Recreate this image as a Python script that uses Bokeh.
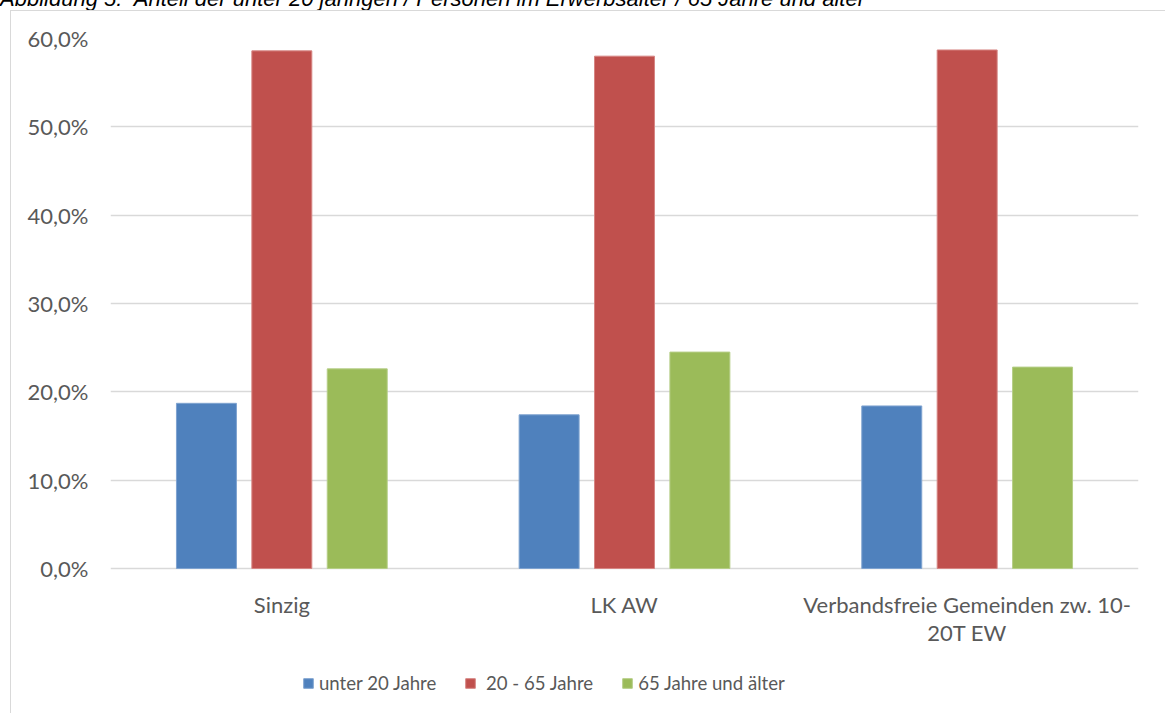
from bokeh.plotting import figure
from bokeh.models import (FactorRange, Legend, LegendItem, FixedTicker,
                          ColumnDataSource, Range1d, Div)
from bokeh.layouts import column
from bokeh.transform import dodge
from bokeh.embed import file_html
from bokeh.resources import INLINE

# ---- data ----
categories = ["Sinzig", "LK AW", "Verbandsfreie Gemeinden zw. 10-\n20T EW"]
series_names = ["unter 20 Jahre", "\u00a020 - 65 Jahre", "65 Jahre und älter"]
unter_20 = [18.7, 17.4, 18.4]
erwerbsalter = [58.6, 58.0, 58.7]
ab_65 = [22.6, 24.5, 22.8]
y_ticks = [0, 10, 20, 30, 40, 50, 60]
y_tick_labels = ["0,0%", "10,0%", "20,0%", "30,0%", "40,0%", "50,0%", "60,0%"]
title_text = "Abbildung 5:&nbsp; Anteil der unter 20 jährigen / Personen im Erwerbsalter / 65 Jahre und älter"

colors = ["#4F81BD", "#C0504D", "#9BBB59"]
edge_colors = ["#7FA3D0", "#D68583", "#B5CE86"]
FONT = "Lato"
TXT = "#595959"

# figure occupies canvas from (10,10) to (1165,713); 1px border shifts content by 1
W, H = 1155, 703
FL, FR, FT = 99, 1127, 27           # frame edges inside the figure
ZERO = 557                          # figure y of the 0 % line
Y_TOP = 60.0
PX_PER_UNIT = (ZERO - FT) / Y_TOP
Y_BOTTOM = -(H - ZERO) / PX_PER_UNIT  # frame runs down to the figure bottom

p = figure(width=W, height=H, output_backend="svg", toolbar_location=None,
           x_range=FactorRange(*categories, range_padding=0),
           y_range=Range1d(Y_BOTTOM, Y_TOP),
           min_border_left=FL, min_border_right=W - FR,
           min_border_top=FT, min_border_bottom=0)
p.outline_line_color = None
p.background_fill_color = "white"
p.border_fill_color = "white"
p.margin = (0, 0, 0, 10)
p.styles = {"border-left": "1px solid #D9D9D9", "border-top": "1px solid #D9D9D9"}

src = ColumnDataSource(dict(cat=categories, a=unter_20, b=erwerbsalter, c=ab_65))
offsets = [-0.22, 0.0, 0.22]
renderers = []
for key, off, col, ecol in zip(["a", "b", "c"], offsets, colors, edge_colors):
    r = p.vbar(x=dodge("cat", off, range=p.x_range), top=key, width=0.175, bottom=0,
               source=src, fill_color=col, line_color=ecol, line_width=1)
    renderers.append(r)

# grid
p.xgrid.grid_line_color = None
p.ygrid.ticker = FixedTicker(ticks=y_ticks)
p.ygrid.grid_line_color = "#D9D9D9"
p.ygrid.grid_line_width = 1.5

# y axis
ya = p.yaxis[0]
ya.ticker = FixedTicker(ticks=y_ticks)
ya.major_label_overrides = {t: l for t, l in zip(y_ticks, y_tick_labels)}
ya.axis_line_color = None
ya.major_tick_line_color = None
ya.minor_tick_line_color = None
ya.major_tick_out = 0
ya.major_tick_in = 0
ya.major_label_standoff = 22
ya.major_label_text_font = FONT
ya.major_label_text_font_size = "22px"
ya.major_label_text_color = TXT

# x axis, pinned at the 0 % line
xa = p.xaxis[0]
xa.fixed_location = 0
xa.axis_line_color = None
xa.major_tick_line_color = None
xa.major_tick_out = 0
xa.major_tick_in = 0
xa.major_label_standoff = 22
xa.major_label_text_font = FONT
xa.major_label_text_font_size = "22px"
xa.major_label_text_color = TXT
xa.major_label_text_line_height = 1.06
xa.major_label_orientation = "horizontal"

# legend
items = [LegendItem(label=n, renderers=[r]) for n, r in zip(series_names, renderers)]
legend = Legend(items=items, orientation="horizontal", location=(192, 20),
                glyph_width=12, glyph_height=12, label_standoff=5, spacing=28,
                padding=0, margin=0, border_line_alpha=0, background_fill_alpha=0,
                label_text_font=FONT, label_text_font_size="18.6px", label_text_color=TXT)
p.add_layout(legend)

# caption, cut off at the top of the page
title_div = Div(text=f'<div style="position:relative; top:-12px; white-space:nowrap; '
                     f'font-family:\'Liberation Sans\'; font-style:italic; font-size:22px; '
                     f'line-height:22px; color:#000;">{title_text}</div>',
                width=1165, height=10, margin=0,
                styles={"overflow": "hidden"})

layout = column(title_div, p, spacing=0)

open("out.html", "w").write(file_html(layout, INLINE))
